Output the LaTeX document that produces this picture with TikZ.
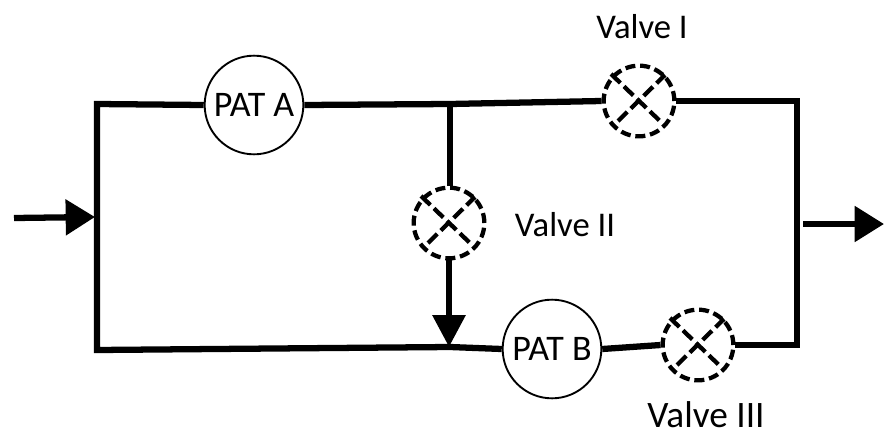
\documentclass[tikz,border=0pt]{standalone}
\usepackage{fontspec}
\setmainfont{Carlito}
\usetikzlibrary{arrows.meta}
\tikzset{
  pipe/.style={line width=4.7pt,black},
  flow/.style={pipe,-{Triangle[length=24pt,width=24pt]}},
  flowsmall/.style={pipe,-{Triangle[length=22pt,width=26pt]}},
  patnode/.style={circle,draw=black,line width=1.4pt,fill=white,minimum size=74pt,inner sep=0pt,font=\fontsize{27pt}{30pt}\selectfont},
  valvebox/.style={circle,draw=black,line width=3.2pt,dash pattern=on 7.5pt off 3.6pt,fill=white,minimum size=53pt,inner sep=0pt},
  cross/.style={line width=3.2pt,dash pattern=on 9.7pt off 3.8pt},
  lab/.style={font=\fontsize{26pt}{30pt}\selectfont,inner sep=0pt}
}
\begin{document}
\begin{tikzpicture}[x=0.75pt,y=-0.75pt,line cap=butt]
\useasboundingbox (0,0) rectangle (884,432);
\coordinate (tl) at (97,104);
\coordinate (tr) at (797,101);
\coordinate (bl) at (97,350);
\coordinate (br) at (797,345);
\coordinate (tj) at (450,104);
\coordinate (bj) at (450,347);
\coordinate (inS) at (14,218);
\coordinate (inE) at (95,217);
\coordinate (outS) at (803,224);
\coordinate (outE) at (884,224);
\node[patnode] (A) at (254,105) {PAT A};
\node[patnode] (B) at (552,349) {PAT B};
\node[valvebox] (V1) at (639,101) {};
\node[valvebox] (V2) at (449,223) {};
\node[valvebox] (V3) at (698,345) {};
\begin{scope}[on background layer/.try]
\end{scope}
\draw[pipe,line join=miter] (A.west) -- (tl) -- (bl) -- (bj) -- (B.west);
\draw[pipe] (A.east) -- (tj) -- (V1.west);
\draw[pipe,line join=miter] (V1.east) -- (tr) -- (br) -- (V3.east);
\draw[pipe] (B.east) -- (V3.west);
\draw[pipe] (tj) -- (V2.north -| tj);
\draw[flow] (V2.south) -- (V2.south |- bj);
\draw[flowsmall] (inS) -- (inE);
\draw[flowsmall] (outS) -- (outE);
\foreach \v in {V1,V2,V3}{
  \draw[cross] ([shift={(-28,-27)}]\v.center) -- ([shift={(22,21)}]\v.center);
  \draw[cross] ([shift={(-21,20)}]\v.center) -- ([shift={(26,-26)}]\v.center);
}
\node[lab] (L1) at (642,27) {Valve I};
\node[lab] (L2) at (565,225) {Valve II};
\node[lab,font=\fontsize{28pt}{30pt}\selectfont] (L3) at (706,415) {Valve III};
\end{tikzpicture}
\end{document}
